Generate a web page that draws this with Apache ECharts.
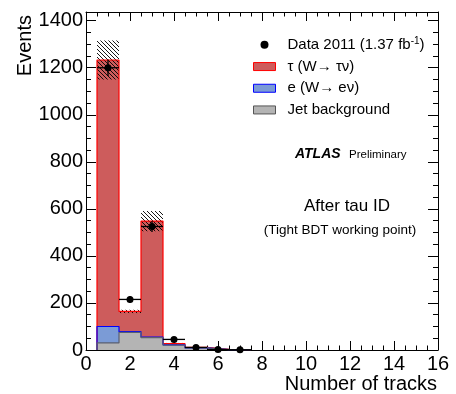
<!DOCTYPE html>
<html><head><meta charset="utf-8">
<script src="https://cdn.jsdelivr.net/npm/echarts@6/dist/echarts.min.js"></script>
<style>html,body{margin:0;padding:0;background:#fff}#c{width:456px;height:394px}</style>
</head><body><div id="c"></div>
<script>
// ---- data ----
const binCenters = [1, 2, 3, 4, 5, 6, 7];
const jetBkg   = [30, 75, 53, 21, 9, 2, 1];
const eBkg     = [70, 3, 2, 1, 0, 0, 0];
const tauSig   = [1133, 86, 493, 5, 2, 1, 0];
const mcErr    = [83, 7, 43, 3, 1, 0, 0];
const dataVals = [1200, 215, 525, 45, 11, 2, 1];
const dataErr  = [35, 15, 23, 7, 3, 1.4, 1];
const xTicks = [0, 2, 4, 6, 8, 10, 12, 14, 16];
const yTicks = [0, 200, 400, 600, 800, 1000, 1200, 1400];

const DATA_NAME = 'Data 2011 (1.37 fb-1)';
const TAU_NAME = 'τ (W→ τν)';
const E_NAME = 'e (W→ eν)';
const JET_NAME = 'Jet background';
const FONT = "'Liberation Sans', Arial, Helvetica, sans-serif";

// cumulative stack tops (ROOT THStack style)
const jetTop = jetBkg.slice();
const eTop = jetBkg.map((v, i) => v + eBkg[i]);
const tauTop = eTop.map((v, i) => v + tauSig[i]);

// hatch pattern
const pc = document.createElement('canvas');
pc.width = 4; pc.height = 4;
const g = pc.getContext('2d');
g.strokeStyle = 'rgba(0,0,0,0.9)'; g.lineWidth = 1;
g.beginPath();
g.moveTo(0, 0); g.lineTo(4, 4);
g.moveTo(-1, 3); g.lineTo(1, 5);
g.moveTo(3, -1); g.lineTo(5, 1);
g.stroke();

function fillSeries(name, tops, color) {
  return {
    type: 'custom', name: name, xAxisIndex: 0, yAxisIndex: 0,
    data: binCenters.map((c, i) => [c, tops[i]]),
    encode: { x: 0, y: 1 },
    renderItem: function (params, api) {
      const c = api.value(0), v = api.value(1);
      if (!v) return null;
      const p0 = api.coord([c - 0.5, v]);
      const p1 = api.coord([c + 0.5, 0]);
      return { type: 'rect', shape: { x: p0[0], y: p0[1], width: p1[0] - p0[0], height: p1[1] - p0[1] },
               style: { fill: color } };
    },
    itemStyle: { color: color },
    silent: true
  };
}
function outlineSeries(name, tops, color) {
  const pts = [[binCenters[0] - 0.5, 0]];
  binCenters.forEach((c, i) => pts.push([c - 0.5, tops[i]]));
  pts.push([binCenters[binCenters.length - 1] + 0.5, 0]);
  return {
    type: 'line', name: name, xAxisIndex: 0, yAxisIndex: 0, data: pts, step: 'end',
    showSymbol: false, symbol: 'none', lineStyle: { color: color, width: 1.2 },
    itemStyle: { color: color }, silent: true
  };
}

function axisBase(extra) {
  return Object.assign({
    type: 'value',
    axisLine: { show: true, onZero: false, lineStyle: { color: '#000', width: 1 } },
    splitLine: { show: false },
    minorSplitLine: { show: false }
  }, extra);
}

const chart = echarts.init(document.getElementById('c'), null, { renderer: 'canvas' });
chart.setOption({
  animation: false,
  backgroundColor: '#fff',
  grid: { left: 86, right: 18, top: 12, bottom: 44, containLabel: false, outerBoundsMode: 'none' },
  xAxis: [
    axisBase({ min: 0, max: 16, interval: 2, position: 'bottom',
      axisTick: { show: true, inside: true, length: 9, lineStyle: { color: '#000' } },
      minorTick: { show: true, splitNumber: 4, length: 4.5, lineStyle: { color: '#000' } },
      axisLabel: { show: true, fontSize: 20, fontFamily: FONT, color: '#000', margin: 4,
        formatter: v => xTicks.indexOf(v) >= 0 ? String(v) : '' } }),
    axisBase({ min: 0, max: 16, interval: 2, position: 'top',
      axisTick: { show: true, inside: true, length: 9, lineStyle: { color: '#000' } },
      minorTick: { show: true, splitNumber: 4, length: 4.5, lineStyle: { color: '#000' } },
      axisLabel: { show: false } })
  ],
  yAxis: [
    axisBase({ min: 0, max: 1437, interval: 200, position: 'left',
      axisTick: { show: true, inside: true, length: 10, lineStyle: { color: '#000' } },
      axisLabel: { show: true, fontSize: 20, fontFamily: FONT, color: '#000', margin: 3,
        formatter: v => yTicks.indexOf(v) >= 0 ? String(v) : '' } }),
    axisBase({ min: 0, max: 1437, interval: 50, position: 'left',
      axisLine: { show: false, onZero: false },
      axisTick: { show: true, inside: true, length: 5, lineStyle: { color: '#000' } },
      axisLabel: { show: false } }),
    axisBase({ min: 0, max: 1437, interval: 200, position: 'right',
      axisTick: { show: true, inside: true, length: 10, lineStyle: { color: '#000' } },
      axisLabel: { show: false } }),
    axisBase({ min: 0, max: 1437, interval: 50, position: 'right',
      axisLine: { show: false, onZero: false },
      axisTick: { show: true, inside: true, length: 5, lineStyle: { color: '#000' } },
      axisLabel: { show: false } })
  ],
  legend: {
    orient: 'vertical', left: 248, top: 29, itemWidth: 22, itemHeight: 8, itemGap: 0,
    selectedMode: false,
    textStyle: { fontSize: 15, fontFamily: FONT, color: '#000', lineHeight: 21.7, padding: [0, 0, 0, 7],
      rich: { sup: { fontSize: 10, lineHeight: 10, fontFamily: FONT, color: '#000', verticalAlign: 'top', padding: [2, 0, 0, 0] } } },
    formatter: name => name === DATA_NAME ? 'Data 2011 (1.37 fb{sup|-1})' : name,
    data: [
      { name: DATA_NAME, icon: 'circle', itemStyle: { color: '#000', borderWidth: 0, opacity: 1 } },
      { name: TAU_NAME, icon: 'rect', itemStyle: { color: '#cd5c5c', borderColor: '#ff0000', borderWidth: 1 } },
      { name: E_NAME, icon: 'rect', itemStyle: { color: '#7b9bd6', borderColor: '#0000ff', borderWidth: 1 } },
      { name: JET_NAME, icon: 'rect', itemStyle: { color: '#b4b4b4', borderColor: '#555555', borderWidth: 1 } }
    ]
  },
  graphic: [
    { type: 'text', x: 25, y: 15, rotation: Math.PI / 2, silent: true,
      style: { text: 'Events', fontSize: 20, fontFamily: FONT, fill: '#000', align: 'right', verticalAlign: 'middle' } },
    { type: 'text', x: 437, y: 384, silent: true,
      style: { text: 'Number of tracks', fontSize: 20, fontFamily: FONT, fill: '#000', align: 'right', verticalAlign: 'middle' } },
    { type: 'text', x: 295, y: 154, silent: true,
      style: { text: 'ATLAS', fontSize: 14, fontWeight: 'bold', fontStyle: 'italic', fontFamily: FONT, fill: '#000', align: 'left', verticalAlign: 'middle' } },
    { type: 'text', x: 349, y: 155, silent: true,
      style: { text: 'Preliminary', fontSize: 11.5, fontFamily: FONT, fill: '#000', align: 'left', verticalAlign: 'middle' } },
    { type: 'text', x: 347, y: 206, silent: true,
      style: { text: 'After tau ID', fontSize: 17, fontFamily: FONT, fill: '#000', align: 'center', verticalAlign: 'middle' } },
    { type: 'text', x: 340, y: 230, silent: true,
      style: { text: '(Tight BDT working point)', fontSize: 13.5, fontFamily: FONT, fill: '#000', align: 'center', verticalAlign: 'middle' } }
  ],
  series: [
    fillSeries(TAU_NAME, tauTop, '#cd5c5c'),
    outlineSeries(TAU_NAME, tauTop, '#ff0000'),
    fillSeries(E_NAME, eTop, '#7b9bd6'),
    outlineSeries(E_NAME, eTop, '#0000ff'),
    fillSeries(JET_NAME, jetTop, '#b4b4b4'),
    outlineSeries(JET_NAME, jetTop, '#5a5f70'),
    {
      type: 'custom', name: 'MC uncertainty', xAxisIndex: 0, yAxisIndex: 0,
      data: binCenters.map((c, i) => [c, tauTop[i] - mcErr[i], tauTop[i] + mcErr[i]]),
      encode: { x: 0, y: [1, 2] },
      renderItem: function (params, api) {
        const c = api.value(0), lo = api.value(1), hi = api.value(2);
        if (hi - lo <= 0) return null;
        const p0 = api.coord([c - 0.5, hi]);
        const p1 = api.coord([c + 0.5, Math.max(lo, 0)]);
        return { type: 'rect', shape: { x: p0[0], y: p0[1], width: p1[0] - p0[0], height: p1[1] - p0[1] },
                 style: { fill: { image: pc, repeat: 'repeat' } } };
      },
      silent: true
    },
    {
      type: 'custom', name: 'Data errors', xAxisIndex: 0, yAxisIndex: 0,
      data: binCenters.map((c, i) => [c, dataVals[i], dataErr[i]]),
      encode: { x: 0, y: 1 },
      renderItem: function (params, api) {
        const c = api.value(0), v = api.value(1), e = api.value(2);
        const t = api.coord([c, v + e]);
        const b = api.coord([c, Math.max(v - e, 0)]);
        const l = api.coord([c - 0.5, v]);
        const r = api.coord([c + 0.5, v]);
        const st = { stroke: '#000', lineWidth: 1.3 };
        return { type: 'group', children: [
          { type: 'line', shape: { x1: t[0], y1: t[1], x2: b[0], y2: b[1] }, style: st },
          { type: 'line', shape: { x1: l[0], y1: l[1], x2: r[0], y2: r[1] }, style: st }
        ] };
      },
      silent: true, z: 4
    },
    {
      type: 'scatter', name: DATA_NAME, xAxisIndex: 0, yAxisIndex: 0,
      data: binCenters.map((c, i) => [c, dataVals[i]]),
      symbol: 'circle', symbolSize: 7, itemStyle: { color: '#000', opacity: 1 }, z: 5, silent: true
    }
  ]
});
</script>
</body></html>
